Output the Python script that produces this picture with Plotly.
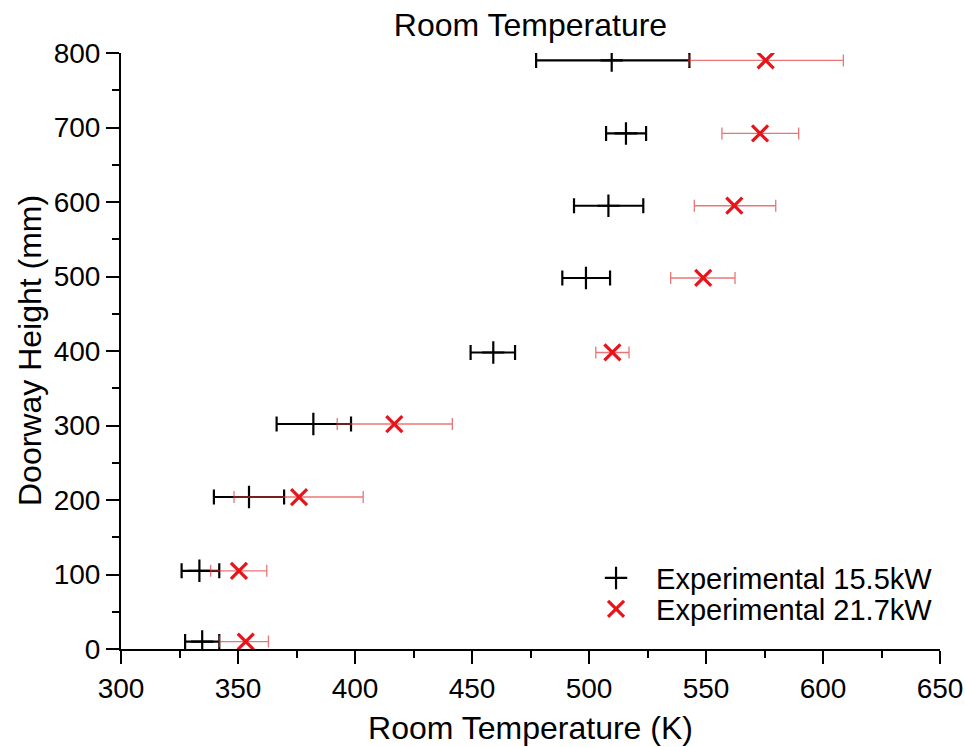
import plotly.graph_objects as go

# Data
height_a = [10, 105, 204, 302, 398, 498, 595, 692, 790]          # Doorway height (mm), 15.5 kW
temp_a = [334.7, 333.5, 354.7, 382.2, 459.1, 498.7, 508.3, 515.8, 509.7]
temp_a_lo = [327.4, 325.9, 339.7, 366.5, 449.4, 488.6, 493.6, 507.3, 477.4]
temp_a_hi = [342.0, 342.0, 369.7, 398.3, 468.4, 509.0, 523.2, 524.4, 542.9]

height_b = [10, 105, 204, 302, 398, 498, 595, 692, 790]          # 21.7 kW
temp_b = [353.3, 350.4, 376.1, 416.8, 510.0, 548.8, 562.1, 573.1, 575.5]
temp_b_lo = [342.0, 338.3, 348.3, 392.4, 502.9, 534.9, 545.0, 556.8, 542.7]
temp_b_hi = [363.0, 362.3, 403.5, 441.6, 517.1, 562.4, 579.8, 589.6, 608.7]

x_ticks = [300, 350, 400, 450, 500, 550, 600, 650]
y_ticks = [0, 100, 200, 300, 400, 500, 600, 700, 800]

FONT = "Liberation Sans, Arial, sans-serif"

fig = go.Figure()

fig.add_trace(go.Scatter(
    x=temp_a, y=height_a, mode="markers", name="Experimental 15.5kW",
    legend="legend",
    marker=dict(symbol="cross-thin-open", size=16, color="black",
                line=dict(color="black", width=2.2)),
    error_x=dict(type="data", symmetric=False,
                 array=[h - c for h, c in zip(temp_a_hi, temp_a)],
                 arrayminus=[c - l for c, l in zip(temp_a, temp_a_lo)],
                 color="black", thickness=2.2, width=7.5),
))

fig.add_trace(go.Scatter(
    x=temp_b, y=height_b, mode="markers", name="Experimental 21.7kW",
    legend="legend2",
    marker=dict(symbol="x-thin-open", size=16, color="#e8141c",
                line=dict(color="#e8141c", width=3.2)),
    error_x=dict(type="data", symmetric=False,
                 array=[h - c for h, c in zip(temp_b_hi, temp_b)],
                 arrayminus=[c - l for c, l in zip(temp_b, temp_b_lo)],
                 color="rgba(222,60,60,0.7)", thickness=1.3, width=6),
))

leg_common = dict(xanchor="left", yanchor="middle", bgcolor="rgba(0,0,0,0)",
                  font=dict(size=29), itemwidth=70)

fig.update_layout(
    width=966, height=747,
    margin=dict(l=121, r=26, t=53, b=98),
    paper_bgcolor="white", plot_bgcolor="white",
    font=dict(family=FONT, color="black", size=28),
    title=dict(text="Room Temperature", x=(121 + 940) / 2 / 966, xanchor="center",
               y=1 - 25 / 747, yanchor="middle", font=dict(size=32)),
    showlegend=True,
    legend=dict(x=0.5556, y=0.119, **leg_common),
    legend2=dict(x=0.5556, y=0.067, **leg_common),
    annotations=[dict(text="Doorway Height (mm)", xref="paper", yref="paper",
                      x=(30 - 121) / 819, y=0.5, xanchor="center", yanchor="middle",
                      textangle=-90, showarrow=False, font=dict(size=32))],
)

fig.update_xaxes(
    range=[300, 650], tickvals=x_ticks, ticktext=[str(v) for v in x_ticks],
    automargin=False,
    showgrid=False, zeroline=False, showline=True, linecolor="black", linewidth=2,
    ticks="outside", ticklen=13, tickwidth=2, tickcolor="black",
    minor=dict(ticks="outside", ticklen=7, tickwidth=2, tickcolor="black", dtick=25, showgrid=False),
    tickfont=dict(size=28),
    title=dict(text="Room Temperature (K)", font=dict(size=32), standoff=14),
)
fig.update_yaxes(
    range=[0, 800], tickvals=y_ticks, ticktext=[str(v) for v in y_ticks],
    automargin=False,
    showgrid=False, zeroline=False, showline=True, linecolor="black", linewidth=2,
    ticks="outside", ticklen=13, tickwidth=2, tickcolor="black",
    minor=dict(ticks="outside", ticklen=7, tickwidth=2, tickcolor="black", dtick=50, showgrid=False),
    tickfont=dict(size=28),
)

fig.write_html("out.html", config={"displayModeBar": False},
               post_script="document.body.style.margin='0';document.body.style.overflow='hidden';")
